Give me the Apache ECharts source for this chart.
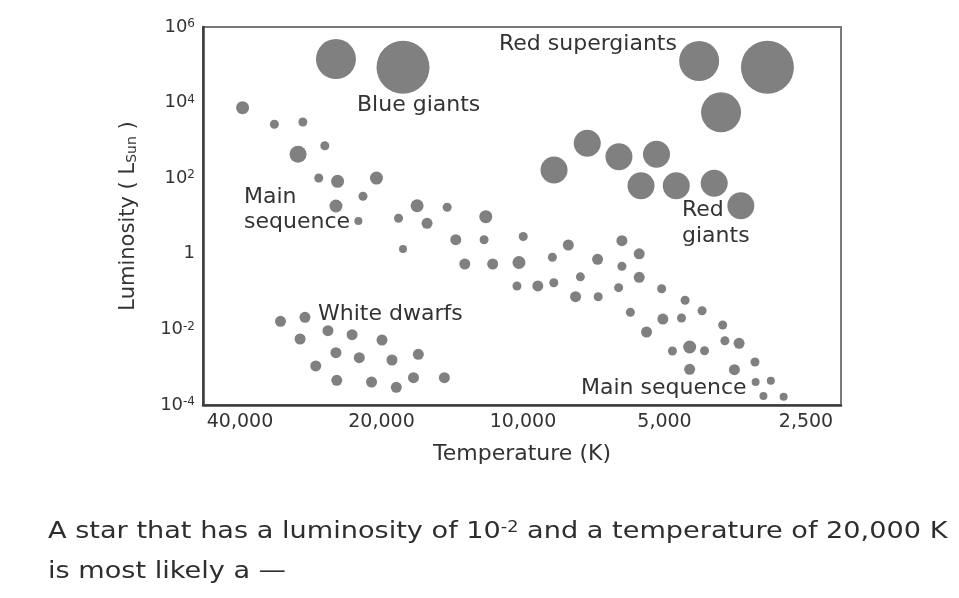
<!DOCTYPE html>
<html>
<head>
<meta charset="utf-8">
<script src="https://cdn.jsdelivr.net/npm/echarts@6/dist/echarts.min.js"></script>
<style>
html,body{margin:0;padding:0;background:#fff;}
#chart{width:959px;height:598px;}
</style>
</head>
<body>
<div id="chart"></div>
<script>
// ---- Data (temperature in K, luminosity in L_sun) ----
const xTickTemps = [40000, 20000, 10000, 5000, 2500];
const yTickExponents = [-4, -2, 0, 2, 4, 6];

// largest giants / supergiants
const giantsHugeTemp = [18000, 3020];
const giantsHugeLum  = [8.6e4, 8.6e4];
const giantsLargeTemp = [25000, 4220, 3790];
const giantsLargeLum  = [1.42e5, 1.26e5, 5540];

// red giants
const redGiantTemp = [7300, 6250, 5200, 8590, 5610, 4720, 3920, 3440];
const redGiantLum  = [840, 371, 429, 165, 63.3, 63.3, 73.3, 18.7];

// main sequence, by dot size class
const msXLTemp = [30100];
const msXLLum  = [429];
const msLTemp = [39500, 24800, 20500, 25000, 16800, 12000, 10200, 4420];
const msLLum  = [7330, 82.8, 101, 18.4, 18.7, 9.58, 0.589, 0.00342];
const msMTemp = [16000, 13900, 13300, 11600, 8010, 6160, 6940, 5660, 5660, 9300, 7730, 5040, 5460, 3470, 4420, 3550];
const msMLum  = [6.41, 2.36, 0.537, 0.537, 1.71, 2.22, 0.715, 1.0, 0.239, 0.141, 0.0733, 0.0188, 0.00853, 0.00429, 0.00088, 0.000859];
const msSTemp = [33800, 29400, 26400, 27200, 21900, 18400, 14500, 12100, 9990, 8660, 6160, 7550, 10300, 8600, 6920, 6260, 5070, 4520, 4160, 5910, 4600, 3760, 4810, 4110, 3720, 3210];
const msSLum  = [2670, 3070, 724, 101, 33.2, 8.69, 17.0, 2.36, 2.87, 0.808, 0.47, 0.246, 0.141, 0.172, 0.0733, 0.127, 0.119, 0.0589, 0.0312, 0.0283, 0.02, 0.0131, 0.00268, 0.00273, 0.00502, 0.00137];
const msXSTemp = [22400, 18000, 3200, 2970, 3080, 2790];
const msXSLum  = [7.38, 1.34, 0.000406, 0.00044, 0.000173, 0.000166];

// white dwarfs
const whiteDwarfTemp = [32800, 29100, 29800, 26000, 23100, 19950, 25000, 22300, 19000, 16700, 27600, 24900, 21000, 18600, 17100, 14700];
const whiteDwarfLum  = [0.0164, 0.0209, 0.00557, 0.00924, 0.00724, 0.00524, 0.00242, 0.00178, 0.00155, 0.00219, 0.00108, 0.00045, 0.000406, 0.000294, 0.000528, 0.000528];

// ---- Build chart ----
const FONT = 'DejaVu Sans, Verdana, sans-serif';
const DOT = '#808080';
const TXT = '#333333';
const T0 = 40000;
const tx = t => Math.log2(T0 / t);      // temperature -> axis units (halvings from 40,000 K)
const ly = l => Math.log10(l);          // luminosity -> decades

function pts(temps, lums) { return temps.map((t, i) => [tx(t), ly(lums[i])]); }
function dots(name, temps, lums, size) {
  return {
    type: 'scatter', name: name, data: pts(temps, lums), symbolSize: size,
    itemStyle: { color: DOT, opacity: 1 }, silent: true
  };
}

const chart = echarts.init(document.getElementById('chart'), null, { renderer: 'canvas' });
const option = {
  animation: false,
  backgroundColor: '#ffffff',
  grid: { left: 203, right: 118, top: 27, bottom: 193, show: true, borderColor: '#7a7a7a', borderWidth: 2 },
  xAxis: {
    type: 'value', min: -0.2615, max: 4.2473,
    axisLine: { show: true, onZero: false, lineStyle: { color: '#3c3c3c', width: 2.5 } },
    axisTick: { show: false }, splitLine: { show: false },
    axisLabel: {
      customValues: xTickTemps.map(tx), margin: 8, fontSize: 19, color: TXT, fontFamily: FONT,
      formatter: v => Math.round(T0 / Math.pow(2, v)).toLocaleString('en-US')
    },
    name: 'Temperature (K)', nameLocation: 'middle', nameGap: 38,
    nameTextStyle: { fontSize: 22, color: TXT, fontFamily: FONT }
  },
  yAxis: {
    type: 'value', min: yTickExponents[0], max: yTickExponents[yTickExponents.length - 1], interval: 2,
    axisLine: { show: true, onZero: false, lineStyle: { color: '#3c3c3c', width: 2.5 } },
    axisTick: { show: false }, splitLine: { show: false },
    axisLabel: {
      margin: 8, fontSize: 18, color: TXT, fontFamily: FONT,
      formatter: v => v === 0 ? '1' : '{b|10}{s|' + v + '}',
      rich: {
        b: { fontSize: 18, color: TXT, fontFamily: FONT },
        s: { fontSize: 12, color: TXT, fontFamily: FONT, verticalAlign: 'top' }
      }
    },
    name: 'Luminosity ( L{sub|Sun} )', nameLocation: 'middle', nameRotate: 90, nameGap: 64,
    nameTextStyle: {
      fontSize: 21, color: TXT, fontFamily: FONT,
      rich: { sub: { fontSize: 14, color: TXT, fontFamily: FONT, verticalAlign: 'bottom' } }
    }
  },
  series: [
    dots('giantsHuge', giantsHugeTemp, giantsHugeLum, 53),
    dots('giantsLarge', giantsLargeTemp, giantsLargeLum, 40),
    dots('redGiants', redGiantTemp, redGiantLum, 27),
    dots('msXL', msXLTemp, msXLLum, 17),
    dots('msL', msLTemp, msLLum, 13),
    dots('msM', msMTemp, msMLum, 11),
    dots('msS', msSTemp, msSLum, 9),
    dots('msXS', msXSTemp, msXSLum, 8),
    dots('whiteDwarfs', whiteDwarfTemp, whiteDwarfLum, 11)
  ],
  graphic: [
    { type: 'text', x: 357, y: 105.4, style: { text: 'Blue giants', font: '22px ' + FONT, fill: TXT, verticalAlign: 'middle' } },
    { type: 'text', x: 499, y: 44.7, style: { text: 'Red supergiants', font: '22px ' + FONT, fill: TXT, verticalAlign: 'middle' } },
    { type: 'text', x: 682, y: 223.2, style: { text: 'Red\ngiants', font: '22px ' + FONT, fill: TXT, lineHeight: 25.6, verticalAlign: 'middle' } },
    { type: 'text', x: 244, y: 209.5, style: { text: 'Main\nsequence', font: '22px ' + FONT, fill: TXT, lineHeight: 25, verticalAlign: 'middle' } },
    { type: 'text', x: 318, y: 314.7, style: { text: 'White dwarfs', font: '22px ' + FONT, fill: TXT, verticalAlign: 'middle' } },
    { type: 'text', x: 581, y: 388.7, style: { text: 'Main sequence', font: '22px ' + FONT, fill: TXT, verticalAlign: 'middle' } },
    { type: 'text', x: 48, y: 532, scaleX: 1.18, style: {
        text: 'A star that has a luminosity of 10{s|-2} and a temperature of 20,000 K',
        font: '23px ' + FONT, fill: '#2e2e2e', verticalAlign: 'middle',
        rich: { s: { fontSize: 15, fontFamily: FONT, fill: '#2e2e2e', verticalAlign: 'top' } }
    } },
    { type: 'text', x: 48, y: 572, scaleX: 1.18, style: { text: 'is most likely a \u2014', font: '23px ' + FONT, fill: '#2e2e2e', verticalAlign: 'middle' } }
  ]
};
chart.setOption(option);
</script>
</body>
</html>
